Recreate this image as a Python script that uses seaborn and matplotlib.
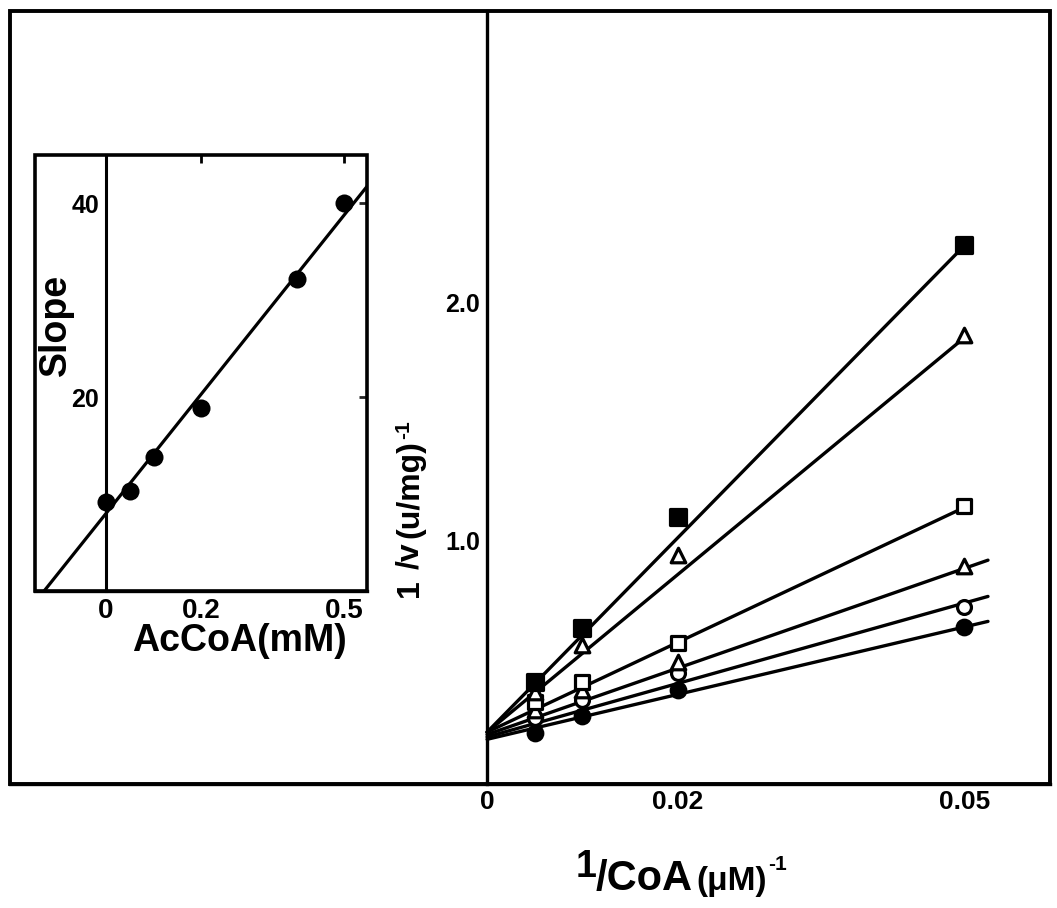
import numpy as np
import pandas as pd
import matplotlib
matplotlib.use("Agg")
import matplotlib.pyplot as plt
import seaborn as sns
from matplotlib.patches import Rectangle

# ---------------- data ----------------
# main plot: 1/[CoA] (uM^-1) vs 1/v (u/mg)^-1, one series per AcCoA level
inv_coa = [0.005, 0.01, 0.02, 0.05]
acc_levels = ["0", "0.05", "0.1", "0.2", "0.4", "0.5"]          # mM AcCoA
inv_v_0 = [0.195, 0.268, 0.377, 0.640]
inv_v_005 = [0.258, 0.335, 0.446, 0.724]
inv_v_01 = [0.293, 0.377, 0.495, 0.897]
inv_v_02 = [0.328, 0.411, 0.572, 1.146]
inv_v_04 = [0.370, 0.565, 0.940, 1.862]
inv_v_05 = [0.411, 0.635, 1.100, 2.238]
# drawn regression lines (intercept, slope, end of line)
fit_intercept = [0.17, 0.18, 0.19, 0.20, 0.20, 0.20]
fit_slope = [9.4, 11.2, 13.9, 18.8, 33.0, 40.7]
fit_xend = [0.0525, 0.0525, 0.0525, 0.05, 0.05, 0.05]

# inset: slope replot vs AcCoA
acc_mM = [0.0, 0.05, 0.1, 0.2, 0.4, 0.5]
slope_vals = [9.2, 10.3, 13.8, 18.9, 32.2, 40.0]
replot_intercept = 8.0
replot_slope = 61.6

main_xticks = [0, 0.02, 0.05]
main_xticklabels = ["0", "0.02", "0.05"]
main_yticks = [1.0, 2.0]
main_yticklabels = ["1.0", "2.0"]
inset_xticks = [0, 0.2, 0.5]
inset_xticklabels = ["0", "0.2", "0.5"]
inset_yticks = [20, 40]
inset_yticklabels = ["20", "40"]

# ---------------- style ----------------
sns.set_theme(style="white")
plt.rcParams["font.family"] = ["Liberation Sans", "DejaVu Sans"]
plt.rcParams["font.weight"] = "bold"
plt.rcParams["text.color"] = "black"
plt.rcParams["axes.labelcolor"] = "black"

W, H = 1057, 908
fig = plt.figure(figsize=(W / 100, H / 100), dpi=100)
fig.patch.set_facecolor("white")

# ---------------- main axes ----------------
ax = fig.add_axes([10 / W, 1 - 784 / H, 1040 / W, 773 / H])
ax.set_facecolor("white")
ax.set_xlim(-0.050, 0.059)
ax.set_ylim(-0.017, 3.218)

series = [inv_v_0, inv_v_005, inv_v_01, inv_v_02, inv_v_04, inv_v_05]
mk = ["o", "o", "^", "s", "^", "s"]
filled = [True, False, False, False, False, True]
msize = [10.5, 10, 10.5, 10.5, 10.5, 11]

for vals, b, m, xe, shape, fl, ms in zip(series, fit_intercept, fit_slope,
                                          fit_xend, mk, filled, msize):
    xs = np.array([0.0, xe])
    sns.lineplot(x=xs, y=b + m * xs, color="black", lw=2.4, ax=ax,
                 zorder=2, legend=False)
    sns.scatterplot(x=inv_coa, y=vals, marker=shape, s=ms ** 2,
                    color="black" if fl else "white", edgecolor="black",
                    linewidth=2.3, ax=ax, zorder=4, legend=False)

for sp in ["top", "right"]:
    ax.spines[sp].set_visible(False)
ax.spines["left"].set_position(("data", 0))
ax.spines["left"].set_linewidth(2.4)
ax.spines["left"].set_color("black")
ax.spines["bottom"].set_linewidth(2.4)
ax.spines["bottom"].set_color("black")
ax.add_patch(Rectangle((0, 0), 1, 1, transform=ax.transAxes, fill=False,
                       lw=2.8, ec="black", clip_on=False, zorder=5))

ax.set_xticks(main_xticks)
ax.set_xticklabels(main_xticklabels)
ax.set_yticks(main_yticks)
ax.set_yticklabels(main_yticklabels)
ax.tick_params(axis="x", direction="in", length=6, width=2, pad=4,
               labelsize=19, colors="black")
ax.tick_params(axis="y", direction="out", length=4, width=2, pad=1,
               labelsize=18, colors="black")
for lab in ax.get_xticklabels() + ax.get_yticklabels():
    lab.set_fontweight("bold")
ax.set_xlabel("")
ax.set_ylabel("")

# ---------------- inset ----------------
ins = fig.add_axes([35 / W, 1 - 591 / H, 332 / W, 436 / H])
ins.set_facecolor("white")
ins.set_xlim(-0.149, 0.548)
ins.set_ylim(0, 45)
xl = np.array([-0.2, 0.6])
sns.lineplot(x=xl, y=replot_intercept + replot_slope * xl, color="black",
             lw=2.3, ax=ins, zorder=2, legend=False)
sns.scatterplot(x=acc_mM, y=slope_vals, marker="o", s=13 ** 2, color="black",
                edgecolor="black", linewidth=0, ax=ins, zorder=4, legend=False)
for sp in ["top", "right"]:
    ins.spines[sp].set_visible(False)
ins.spines["left"].set_position(("data", 0))
ins.spines["left"].set_linewidth(2.2)
ins.spines["left"].set_color("black")
ins.spines["bottom"].set_linewidth(2.4)
ins.spines["bottom"].set_color("black")
ins.add_patch(Rectangle((0, 0), 1, 1, transform=ins.transAxes, fill=False,
                        lw=2.6, ec="black", clip_on=False, zorder=5))
ins.set_xticks(inset_xticks)
ins.set_xticklabels(inset_xticklabels)
ins.set_yticks(inset_yticks)
ins.set_yticklabels(inset_yticklabels)
ins.tick_params(axis="x", direction="in", length=6, width=2, pad=5,
                labelsize=20, top=True, colors="black")
ins.tick_params(axis="y", direction="out", length=4, width=2, pad=1,
                labelsize=18, colors="black")
for lab in ins.get_xticklabels() + ins.get_yticklabels():
    lab.set_fontweight("bold")
sec = ins.secondary_yaxis("right")
sec.set_yticks(inset_yticks)
sec.tick_params(direction="in", length=6, width=2, labelright=False)
sec.spines["right"].set_visible(False)
ins.set_xlabel("")
ins.set_ylabel("")

fig.text(239 / W, 1 - 641 / H, "AcCoA(mM)", ha="center", va="center",
         size=27, weight="bold", color="black")
fig.text(56 / W, 1 - 325 / H, "Slope", ha="center", va="center",
         size=27, weight="bold", rotation=90, color="black")

# ---------------- composite axis labels ----------------
renderer = fig.canvas.get_renderer()


def chain(pieces, x0, y0, rot=0):
    pos = 0.0
    for s, size, rise, gap in pieces:
        if rot == 0:
            x, y = x0 + pos + gap, y0 + rise
        else:
            x, y = x0 - rise, y0 + pos + gap
        t = fig.text(x / W, y / H, s, size=size, weight="bold", rotation=rot,
                     rotation_mode="anchor", ha="left", va="baseline",
                     color="black")
        bb = t.get_window_extent(renderer=renderer)
        pos += gap + (bb.width if rot == 0 else bb.height)


# x label: 1/CoA (uM)^-1 ; baseline ~890 px from top
chain([("1", 27, 13, 0), ("/CoA", 30, 0, -1), ("(\u03bcM)", 24, 0, 4),
       ("-1", 15, 20, 1)], 576, H - 890)
# y label: 1/v (u/mg)^-1 ; baseline at x~418
chain([("1", 23, 0, 0), ("/v", 23, 0, 10), ("(u/mg)", 23, 0, 5),
       ("-1", 15, 9, 1)], 418, H - 597, rot=90)

fig.savefig("out.png", dpi=100, facecolor="white")
